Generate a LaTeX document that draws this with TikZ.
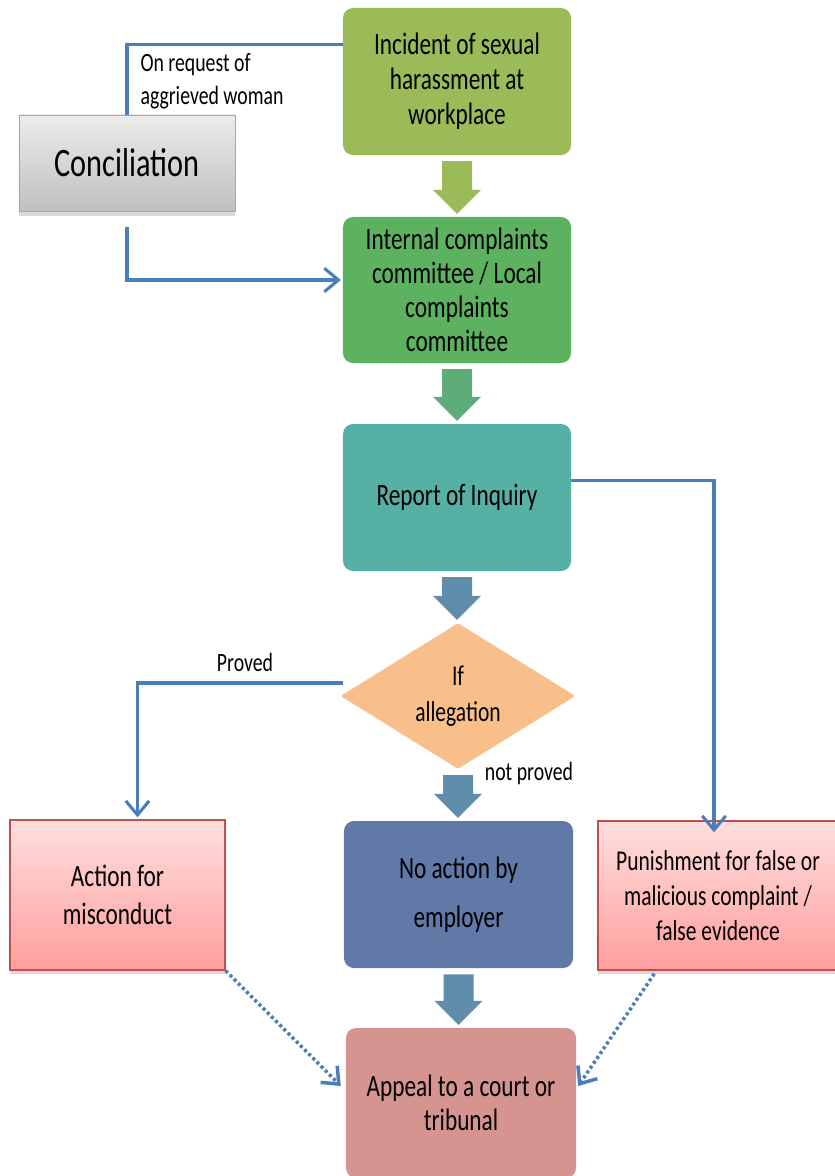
\documentclass[tikz,border=0pt]{standalone}
\usepackage{fontspec}
\setmainfont{Carlito}[FakeStretch=0.75]
\usetikzlibrary{shapes.geometric,arrows.meta,calc,shadows,positioning}
\definecolor{olivebox}{HTML}{9BBB59}
\definecolor{greenbox}{HTML}{5CB25F}
\definecolor{greenarrow}{HTML}{5EAD79}
\definecolor{tealbox}{HTML}{57B0A4}
\definecolor{steelarrow}{HTML}{5F8DAB}
\definecolor{peachbox}{HTML}{F9BF8B}
\definecolor{navybox}{HTML}{6079A7}
\definecolor{rosebox}{HTML}{D69491}
\definecolor{pinktop}{HTML}{FFDEDE}
\definecolor{pinkbot}{HTML}{FF9E9E}
\definecolor{redline}{HTML}{C0504D}
\definecolor{linkblue}{HTML}{4A7EBB}
\def\blockarrow#1#2#3{%
  \coordinate (ba) at ($(#1.south)+(0,6)$);
  \coordinate (bb) at (#1.south |- #2.north);
  \coordinate (bb) at ($(bb)+(0,-3)$);
  \fill[#3] ($(ba)+(-15,0)$) -- ($(ba)+(15,0)$) -- ($(bb)+(15,-24)$) -- ($(bb)+(24,-24)$)
    -- (bb) -- ($(bb)+(-24,-24)$) -- ($(bb)+(-15,-24)$) -- cycle;}

\begin{document}
\begin{tikzpicture}[x=0.03cm,y=-0.03cm,
    txt/.style={font=\fontsize{26.5}{30}\selectfont, align=center, text=black},
    box/.style={txt, rounded corners=0.3cm, minimum width=6.84cm, minimum height=4.41cm, inner sep=2pt},
    pinkbox/.style={txt, top color=pinktop, bottom color=pinkbot, draw=redline, line width=1.2pt,
        drop shadow={shadow xshift=0pt, shadow yshift=-3pt, opacity=0.3}},
    lbl/.style={font=\fontsize{22.5}{28}\selectfont, align=left},
    link/.style={draw=linkblue, line width=2.6pt},
    tip/.style={-{Straight Barb[length=12pt,width=20pt]}},
    dots/.style={link, line width=3pt, dash pattern=on 2.6pt off 2.4pt}]
\path[use as bounding box, fill=white] (0,0) rectangle (834,1176);

\node[box, fill=olivebox] (inc) at (457,81.5) {Incident of sexual\\harassment at\\workplace};
\node[box, fill=greenbox, minimum height=4.38cm, font=\fontsize{26.5}{29}\selectfont] (icc) at (457,290) {Internal complaints\\committee / Local\\complaints\\committee};
\node[box, fill=tealbox] (rep) at (457,497.5) {Report of Inquiry};
\node[txt, diamond, fill=peachbox, rounded corners=2pt, minimum width=7.05cm, minimum height=4.26cm, inner sep=0pt,
    font=\fontsize{24.5}{30.5}\selectfont] (dia) at (458,696) {If\\allegation};
\node[box, fill=navybox, minimum width=6.87cm, font=\fontsize{26.5}{42}\selectfont] (noact) at (458.5,894.5) {No action by\\employer};
\node[box, fill=rosebox, minimum width=6.9cm, minimum height=4.5cm, font=\fontsize{26.5}{28.5}\selectfont] (app) at (461,1103) {Appeal to a court or\\tribunal};
\node[pinkbox, minimum width=6.45cm, minimum height=4.5cm, font=\fontsize{26.5}{32.5}\selectfont] (act) at (117.5,895) {Action for\\misconduct};
\node[pinkbox, minimum width=7.2cm, minimum height=4.47cm, font=\fontsize{24.5}{30}\selectfont] (pun) at (718,895.5) {Punishment for false or\\malicious complaint /\\false evidence};
\node[txt, font=\fontsize{34.5}{40}\selectfont, top color=gray!15, bottom color=gray!50, draw=gray!70, line width=0.8pt,
    minimum width=6.48cm, minimum height=2.88cm,
    drop shadow={shadow xshift=0pt, shadow yshift=-4pt, opacity=0.3}] (conc) at (127,163) {Conciliation};

\blockarrow{inc}{icc}{olivebox}
\blockarrow{icc}{rep}{greenarrow}
\blockarrow{rep}{dia}{steelarrow}
\blockarrow{dia}{noact}{steelarrow}
\blockarrow{noact}{app}{steelarrow}

\draw[link] ($(inc.north west)+(0,37)$) -| (conc.north);
\node[lbl] (req) at (212,81) {On request of\\aggrieved woman};
\draw[link, tip] ($(conc.south)+(0,16)$) |- ($(icc.west)+(-2,-10)$);
\draw[link, tip] ($(dia.west)+(3,-13)$) -| ($(act.north)+(20,-2)$);
\node[lbl] (prv) at (245,662) {Proved};
\draw[link, tip] ($(rep.east)+(0,-17)$) -| ($(pun.north)+(-4,12)$);
\node[lbl] (nprv) at (529,773) {not proved};
\draw[dots, tip] (act.south east) -- ($(app.west)+(-5,-17)$);
\draw[dots, tip] ($(pun.south west)+(57,3)$) -- ($(app.east)+(2,-17)$);
\end{tikzpicture}
\end{document}
